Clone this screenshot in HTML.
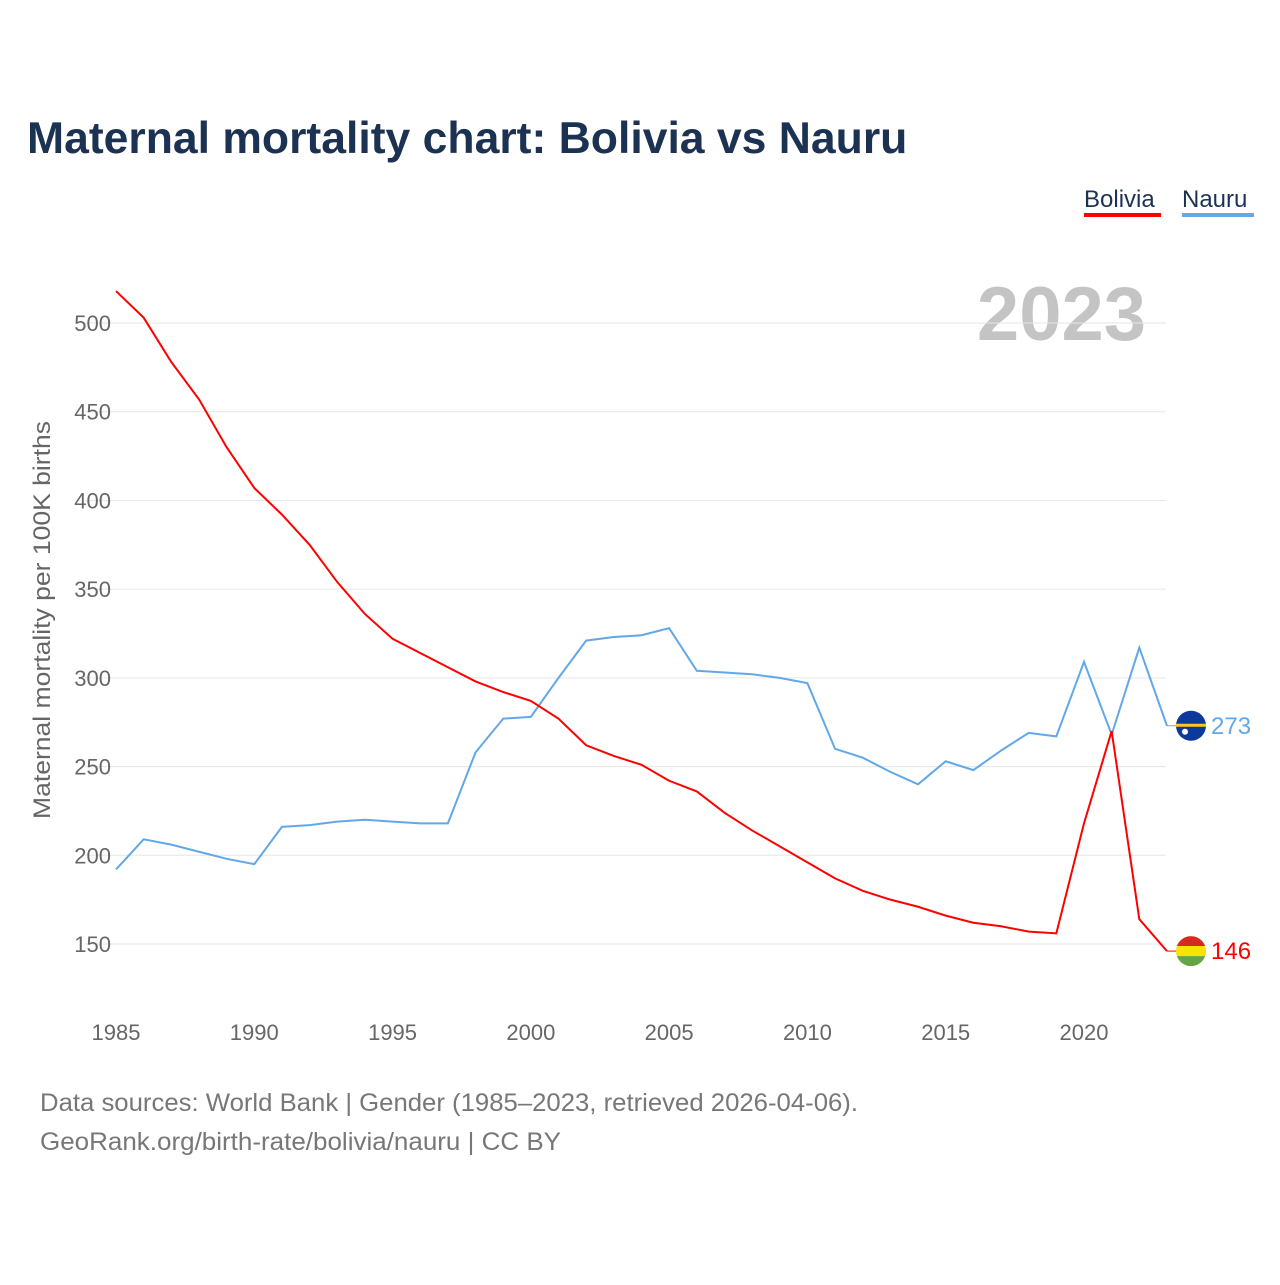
<!DOCTYPE html>
<html><head><meta charset="utf-8">
<style>
body{margin:0;background:#fff;font-family:"Liberation Sans",sans-serif;}
svg text{font-family:"Liberation Sans",sans-serif;}
</style></head>
<body>
<svg width="1280" height="1280" viewBox="0 0 1280 1280" xmlns="http://www.w3.org/2000/svg">
<text x="27" y="153" font-size="44.5" font-weight="bold" fill="#1b3252">Maternal mortality chart: Bolivia vs Nauru</text>
<g>
<text x="1084" y="207" font-size="24" fill="#1b3252">Bolivia</text>
<rect x="1084" y="213" width="77" height="4" fill="#ff0000"/>
<text x="1182" y="207" font-size="24" fill="#1b3252">Nauru</text>
<rect x="1182" y="213" width="72" height="4" fill="#62a8e8"/>
</g>
<text x="1146" y="340" font-size="76" font-weight="bold" fill="#c4c4c4" text-anchor="end">2023</text>
<g id="grid"></g>
<g id="xt"></g>
<text transform="translate(50,620) rotate(-90)" font-size="24" fill="#666" text-anchor="middle" textLength="398" lengthAdjust="spacingAndGlyphs">Maternal mortality per 100K births</text>
<g id="series"></g>
<text x="40" y="1111" font-size="25" fill="#777" textLength="818" lengthAdjust="spacingAndGlyphs">Data sources: World Bank | Gender (1985–2023, retrieved 2026-04-06).</text>
<text x="40" y="1150" font-size="25" fill="#777" textLength="521" lengthAdjust="spacingAndGlyphs">GeoRank.org/birth-rate/bolivia/nauru | CC BY</text>
</svg>
<script>
const years=[];for(let y=1985;y<=2023;y++)years.push(y);
const bolivia=[518,503,478,457,430,407,392,375,354,336,322,314,306,298,292,287,277,262,256,251,242,236,224,214,205,196,187,180,175,171,166,162,160,157,156,218,270,164,146];
const nauru=[192,209,206,202,198,195,216,217,219,220,219,218,218,258,277,278,300,321,323,324,328,304,303,302,300,297,260,255,247,240,253,248,259,269,267,309,268,317,273];
const yTicks=[150,200,250,300,350,400,450,500];
const xTicks=[1985,1990,1995,2000,2005,2010,2015,2020];
const X=v=>116+(v-1985)*27.657;
const Y=v=>944-(v-150)*1.7743;
const NS="http://www.w3.org/2000/svg";
function mk(t,a,p){const e=document.createElementNS(NS,t);for(const k in a)e.setAttribute(k,a[k]);p.appendChild(e);return e;}
const g=document.getElementById('grid');
yTicks.forEach(t=>{
 const l=mk('line',{x1:85,x2:1166,y1:Y(t),y2:Y(t),stroke:'#e6e6e6','stroke-width':1},g);
 
 
 const tx=mk('text',{x:111,y:Y(t)+8,'font-size':22,fill:'#666','text-anchor':'end'},g);
 tx.textContent=t;
 
 
});
const xt=document.getElementById('xt');
xTicks.forEach(t=>{
 const tx=mk('text',{x:X(t),y:1040,'font-size':22,fill:'#666','text-anchor':'middle'},xt);
 tx.textContent=t;
 
 
});
const s=document.getElementById('series');
function line(data,color,name,flag){
 const p=mk('polyline',{points:data.map((v,i)=>X(years[i])+','+Y(v)).join(' '),fill:'none',stroke:color,'stroke-width':2},s);
 
 
 const last=data[data.length-1],ly=Y(last),lx=X(years[years.length-1]);
 const c=mk('line',{x1:lx,x2:1180,y1:ly,y2:ly,stroke:color,'stroke-width':1},s);
 
 
 flag(ly);
 const t=mk('text',{x:1211,y:ly+8,'font-size':24,fill:color},s);
 t.textContent=last;
 
 
}
line(nauru,'#62a8e8','nauru',ly=>{
 const f=mk('g',{},s);
 
 
 mk('circle',{cx:1191,cy:ly,r:15,fill:'#0b3a9c'},f);
 mk('rect',{x:1176,y:ly-2,width:30,height:3,fill:'#ffc61e'},f);
 mk('circle',{cx:1185,cy:ly+6,r:3,fill:'#fff'},f);
});
line(bolivia,'#ff0000','bolivia',ly=>{
 const f=mk('g',{},s);
 
 
 mk('clipPath',{id:'bc'},f);
 mk('circle',{cx:1191,cy:ly,r:15},f.lastChild);
 mk('rect',{x:1176,y:ly-15,width:30,height:10,fill:'#d52b1e','clip-path':'url(#bc)'},f);
 mk('rect',{x:1176,y:ly-5,width:30,height:10,fill:'#f9e300','clip-path':'url(#bc)'},f);
 mk('rect',{x:1176,y:ly+5,width:30,height:10,fill:'#62a744','clip-path':'url(#bc)'},f);
});
</script>
</body></html>
